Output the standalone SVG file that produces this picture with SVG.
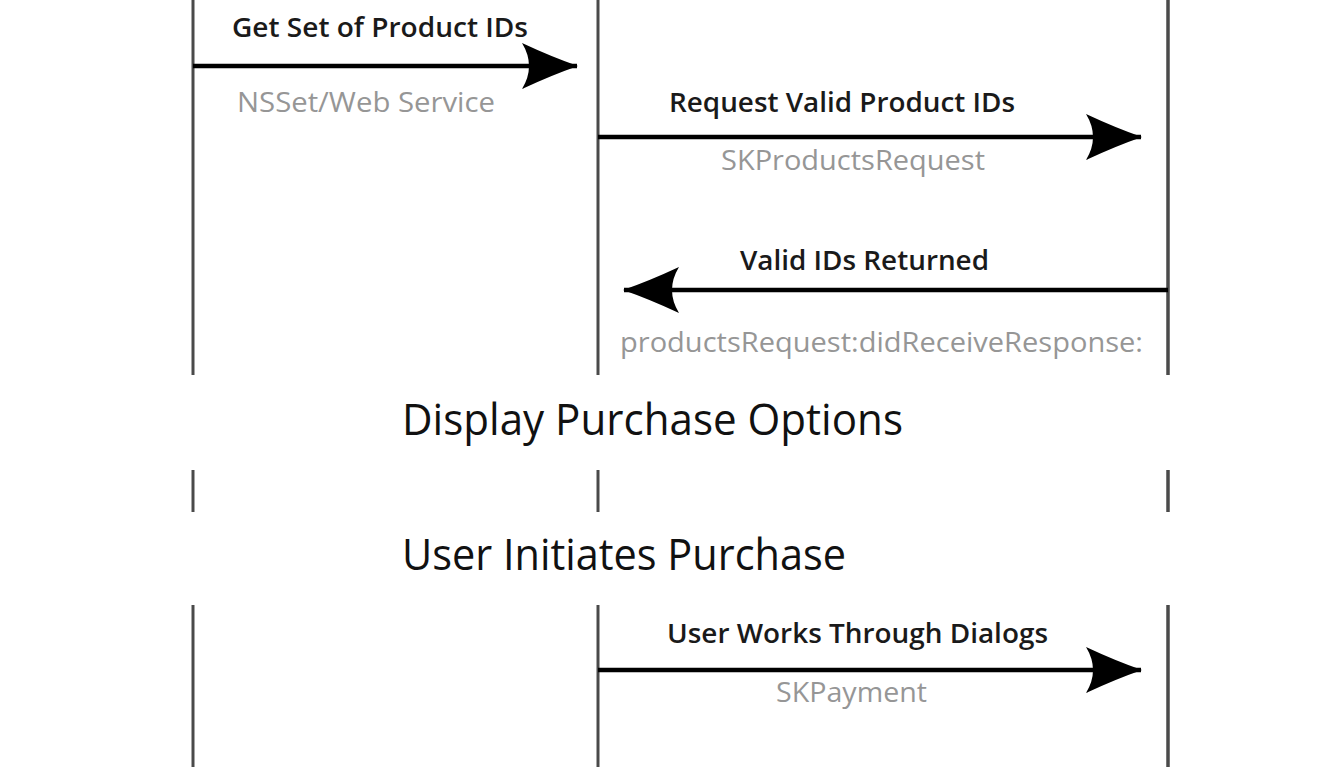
<svg xmlns="http://www.w3.org/2000/svg" width="1335" height="767" viewBox="0 0 1335 767">
<style>
.life{stroke:#4a4a4a;stroke-width:3;fill:none}
.msg{stroke:#000;stroke-width:4.5;fill:none;marker-end:url(#ah)}
.lbl{font-family:"Open Sans","Liberation Sans",sans-serif;font-size:27px;font-weight:600;fill:#1a1a1a;text-anchor:start}
.sub{font-family:"Open Sans","Liberation Sans",sans-serif;font-size:27px;font-weight:400;fill:#969696;text-anchor:start}
.phase{font-family:"Open Sans","Liberation Sans",sans-serif;font-size:44px;font-weight:400;fill:#111}
</style>
<defs>
<marker id="ah" markerUnits="userSpaceOnUse" viewBox="0 0 56 46" refX="55" refY="23" markerWidth="56" markerHeight="46" orient="auto">
<path d="M0,0 Q30,14 56,23 Q30,32 0,46 Q14,23 0,0 Z" fill="#000"/>
</marker>
</defs>
<rect width="1335" height="767" fill="#fff"/>
<g id="lifelines">
<g id="lifeline-app">
<line class="life" x1="193" y1="0" x2="193" y2="375"/>
<line class="life" x1="193" y1="470" x2="193" y2="512"/>
<line class="life" x1="193" y1="605" x2="193" y2="767"/>
</g>
<g id="lifeline-storekit">
<line class="life" x1="598" y1="0" x2="598" y2="375"/>
<line class="life" x1="598" y1="470" x2="598" y2="512"/>
<line class="life" x1="598" y1="605" x2="598" y2="767"/>
</g>
<g id="lifeline-appstore">
<line class="life" x1="1168" y1="0" x2="1168" y2="375" style="stroke-width:3.5"/>
<line class="life" x1="1168" y1="470" x2="1168" y2="512" style="stroke-width:3.5"/>
<line class="life" x1="1168" y1="605" x2="1168" y2="767" style="stroke-width:3.5"/>
</g>
</g>
<g id="connectors">
<line class="msg" x1="193" y1="66" x2="577" y2="66"/>
<line class="msg" x1="598" y1="137" x2="1141" y2="137"/>
<line class="msg" x1="1168" y1="290" x2="624" y2="290"/>
<line class="msg" x1="598" y1="670" x2="1141" y2="670"/>
</g>
<g id="msg1">
<text class="lbl" x="232" y="37" textLength="296" lengthAdjust="spacingAndGlyphs">Get Set of Product IDs</text>
<text class="sub" x="237" y="112" textLength="258" lengthAdjust="spacingAndGlyphs">NSSet/Web Service</text>
</g>
<g id="msg2">
<text class="lbl" x="669" y="112" textLength="346" lengthAdjust="spacingAndGlyphs">Request Valid Product IDs</text>
<text class="sub" x="721" y="170" textLength="264" lengthAdjust="spacingAndGlyphs">SKProductsRequest</text>
</g>
<g id="msg3">
<text class="lbl" x="740" y="270" textLength="249" lengthAdjust="spacingAndGlyphs">Valid IDs Returned</text>
<text class="sub" x="620" y="352" textLength="523" lengthAdjust="spacingAndGlyphs">productsRequest:didReceiveResponse:</text>
</g>
<g id="phase1">
<text class="phase" x="402" y="435" textLength="501" lengthAdjust="spacingAndGlyphs">Display Purchase Options</text>
</g>
<g id="phase2">
<text class="phase" x="402" y="570" textLength="444" lengthAdjust="spacingAndGlyphs">User Initiates Purchase</text>
</g>
<g id="msg4">
<text class="lbl" x="667" y="643" textLength="381" lengthAdjust="spacingAndGlyphs">User Works Through Dialogs</text>
<text class="sub" x="776" y="702" textLength="151" lengthAdjust="spacingAndGlyphs">SKPayment</text>
</g>
</svg>
